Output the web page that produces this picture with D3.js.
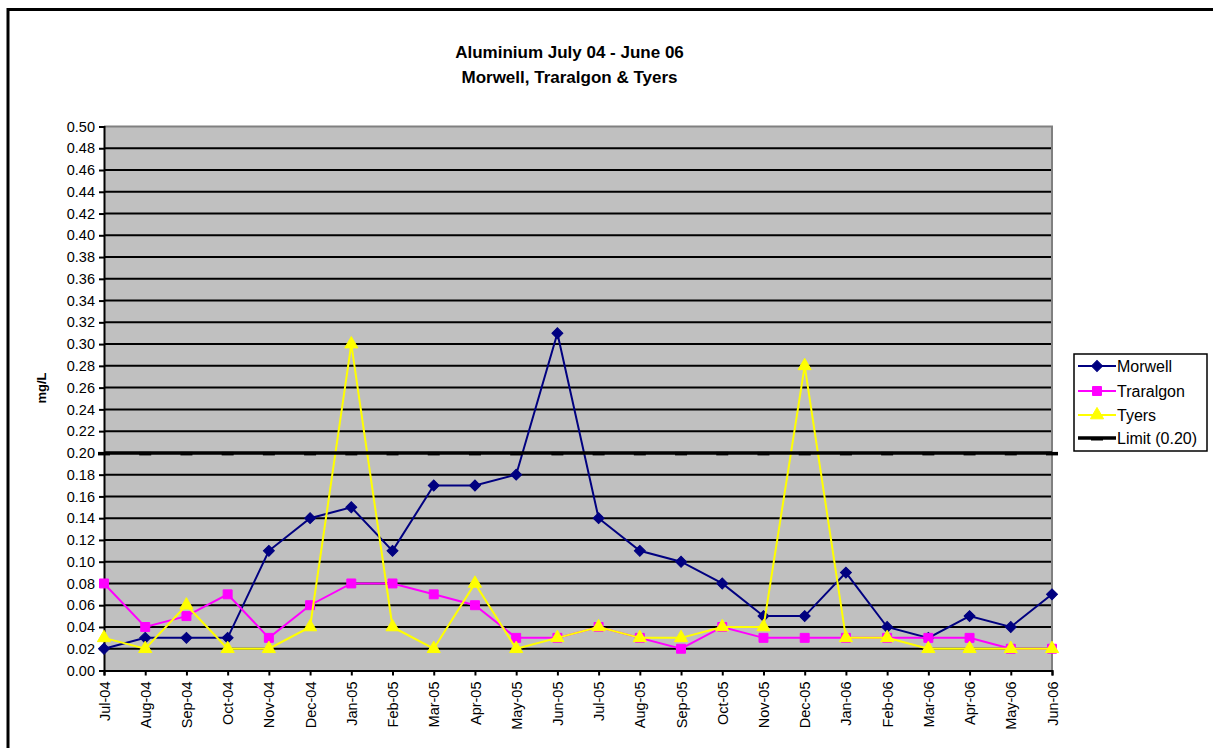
<!DOCTYPE html>
<html>
<head>
<meta charset="utf-8">
<script src="https://cdn.jsdelivr.net/npm/d3@7"></script>
<style>
  html, body { margin: 0; padding: 0; background: #ffffff; }
  svg { display: block; font-family: "Liberation Sans", Arial, sans-serif; }
</style>
</head>
<body>
<svg id="chart" width="1213" height="748"></svg>
<script>
const categories = ["Jul-04","Aug-04","Sep-04","Oct-04","Nov-04","Dec-04","Jan-05","Feb-05","Mar-05","Apr-05","May-05","Jun-05","Jul-05","Aug-05","Sep-05","Oct-05","Nov-05","Dec-05","Jan-06","Feb-06","Mar-06","Apr-06","May-06","Jun-06"];
const morwell   = [0.02,0.03,0.03,0.03,0.11,0.14,0.15,0.11,0.17,0.17,0.18,0.31,0.14,0.11,0.10,0.08,0.05,0.05,0.09,0.04,0.03,0.05,0.04,0.07];
const traralgon = [0.08,0.04,0.05,0.07,0.03,0.06,0.08,0.08,0.07,0.06,0.03,0.03,0.04,0.03,0.02,0.04,0.03,0.03,0.03,0.03,0.03,0.03,0.02,0.02];
const tyers     = [0.03,0.02,0.06,0.02,0.02,0.04,0.30,0.04,0.02,0.08,0.02,0.03,0.04,0.03,0.03,0.04,0.04,0.28,0.03,0.03,0.02,0.02,0.02,0.02];
const limit     = categories.map(() => 0.20);
const yTicks    = d3.range(0, 26).map(i => +(i * 0.02).toFixed(2));
const seriesNames = ["Morwell", "Traralgon", "Tyers", "Limit (0.20)"];

const svg = d3.select("#chart");
const pLeft = 104, pRight = 1052, pTop = 126.5, pBottom = 670.5;

// outer chart border
svg.append("rect").attr("x", 8).attr("y", 9.5).attr("width", 1400).attr("height", 1000)
  .attr("fill", "#fff").attr("stroke", "#000").attr("stroke-width", 3);

const x = d3.scalePoint().domain(categories).range([pLeft, pRight]);
const y = d3.scaleLinear().domain([0, 0.5]).range([pBottom, pTop]);

// plot area
svg.append("rect").attr("x", pLeft).attr("y", pTop).attr("width", pRight - pLeft).attr("height", pBottom - pTop)
  .attr("fill", "#c0c0c0");

// gridlines
svg.append("g").selectAll("line").data(yTicks.filter(v => v > 0 && v < 0.5)).join("line")
  .attr("x1", pLeft).attr("x2", pRight).attr("y1", d => y(d)).attr("y2", d => y(d))
  .attr("stroke", "#000").attr("stroke-width", 2);

// plot border top/right (gray)
svg.append("path").attr("d", `M${pLeft},${pTop}H${pRight}V${pBottom}`)
  .attr("fill", "none").attr("stroke", "#808080").attr("stroke-width", 2);

// Y axis
const yAxis = svg.append("g").attr("transform", `translate(${pLeft},0)`)
  .call(d3.axisLeft(y).tickValues(yTicks).tickFormat(d3.format(".2f")).tickSize(5).tickPadding(4));
yAxis.select(".domain").attr("stroke", "#000").attr("stroke-width", 2);
yAxis.selectAll(".tick line").attr("stroke", "#000").attr("stroke-width", 2);
yAxis.selectAll("text").attr("font-size", "14.5px").attr("fill", "#000")
  .attr("font-family", "Liberation Sans, Arial, sans-serif");

// X axis
const xAxis = svg.append("g").attr("transform", `translate(0,${pBottom})`)
  .call(d3.axisBottom(x).tickSize(5).tickPadding(4));
xAxis.select(".domain").attr("stroke", "#000").attr("stroke-width", 2);
xAxis.selectAll(".tick line").attr("stroke", "#000").attr("stroke-width", 2);
xAxis.selectAll("text").attr("font-size", "14.5px").attr("fill", "#000")
  .attr("font-family", "Liberation Sans, Arial, sans-serif")
  .attr("transform", "rotate(-90)").attr("text-anchor", "end")
  .attr("x", -11).attr("y", 0).attr("dy", "0.35em");

// series lines
const line = d3.line().x((d, i) => x(categories[i])).y(d => y(d));
const series = [
  { name: "Morwell", data: morwell, color: "#000080", marker: "diamond" },
  { name: "Traralgon", data: traralgon, color: "#ff00ff", marker: "square" },
  { name: "Tyers", data: tyers, color: "#ffff00", marker: "triangle" }
];
const symType = { diamond: d3.symbolSquare, square: d3.symbolSquare, triangle: d3.symbolTriangle };
const symSize = { diamond: 60, square: 80, triangle: 75 };
const symRot = { diamond: 45, square: 0, triangle: 0 };

series.forEach(s => {
  svg.append("path").datum(s.data).attr("d", line)
    .attr("fill", "none").attr("stroke", s.color).attr("stroke-width", 2);
  svg.append("g").selectAll("path").data(s.data).join("path")
    .attr("transform", (d, i) => `translate(${x(categories[i])},${y(d)}) rotate(${symRot[s.marker]})`)
    .attr("d", d3.symbol().type(symType[s.marker]).size(symSize[s.marker]))
    .attr("fill", s.color).attr("stroke", s.color).attr("stroke-width", 1);
});

// limit line (drawn on top)
svg.append("path").datum(limit).attr("d", line)
  .attr("fill", "none").attr("stroke", "#000").attr("stroke-width", 3.5);
svg.append("g").selectAll("rect").data(limit).join("rect")
  .attr("x", (d, i) => x(categories[i]) - 6).attr("y", d => y(d) - 1)
  .attr("width", 12).attr("height", 3.5).attr("fill", "#000");

// title
const title = svg.append("text").attr("x", 569.5).attr("text-anchor", "middle")
  .attr("font-weight", "bold").attr("font-size", "17px").attr("fill", "#000");
title.append("tspan").attr("x", 569.5).attr("y", 58).text("Aluminium July 04 - June 06");
title.append("tspan").attr("x", 569.5).attr("y", 82.5).text("Morwell, Traralgon & Tyers");

// y axis label
svg.append("text").attr("transform", "translate(46,388) rotate(-90)")
  .attr("text-anchor", "middle").attr("font-weight", "bold").attr("font-size", "13px")
  .attr("fill", "#000").text("mg/L");

// legend
const lg = svg.append("g");
lg.append("rect").attr("x", 1074).attr("y", 354).attr("width", 133).attr("height", 97)
  .attr("fill", "#fff").attr("stroke", "#000").attr("stroke-width", 1.5);
const legendItems = [
  { name: seriesNames[0], color: "#000080", marker: "diamond", w: 2 },
  { name: seriesNames[1], color: "#ff00ff", marker: "square", w: 2 },
  { name: seriesNames[2], color: "#ffff00", marker: "triangle", w: 2 },
  { name: seriesNames[3], color: "#000", marker: "dash", w: 3.5 }
];
const ly = [366, 391, 415, 438];
legendItems.forEach((it, i) => {
  const cy = ly[i];
  lg.append("line").attr("x1", 1078).attr("x2", 1116).attr("y1", cy).attr("y2", cy)
    .attr("stroke", it.color).attr("stroke-width", it.w);
  if (it.marker === "dash") {
    lg.append("rect").attr("x", 1091).attr("y", cy - 1).attr("width", 12).attr("height", 3.5).attr("fill", "#000");
  } else {
    lg.append("path").attr("transform", `translate(1097,${cy}) rotate(${symRot[it.marker]})`)
      .attr("d", d3.symbol().type(symType[it.marker]).size(symSize[it.marker]))
      .attr("fill", it.color).attr("stroke", it.color);
  }
  lg.append("text").attr("x", 1117).attr("y", cy).attr("dy", "0.36em")
    .attr("font-size", "16px").attr("fill", "#000").text(it.name);
});
</script>
</body>
</html>
